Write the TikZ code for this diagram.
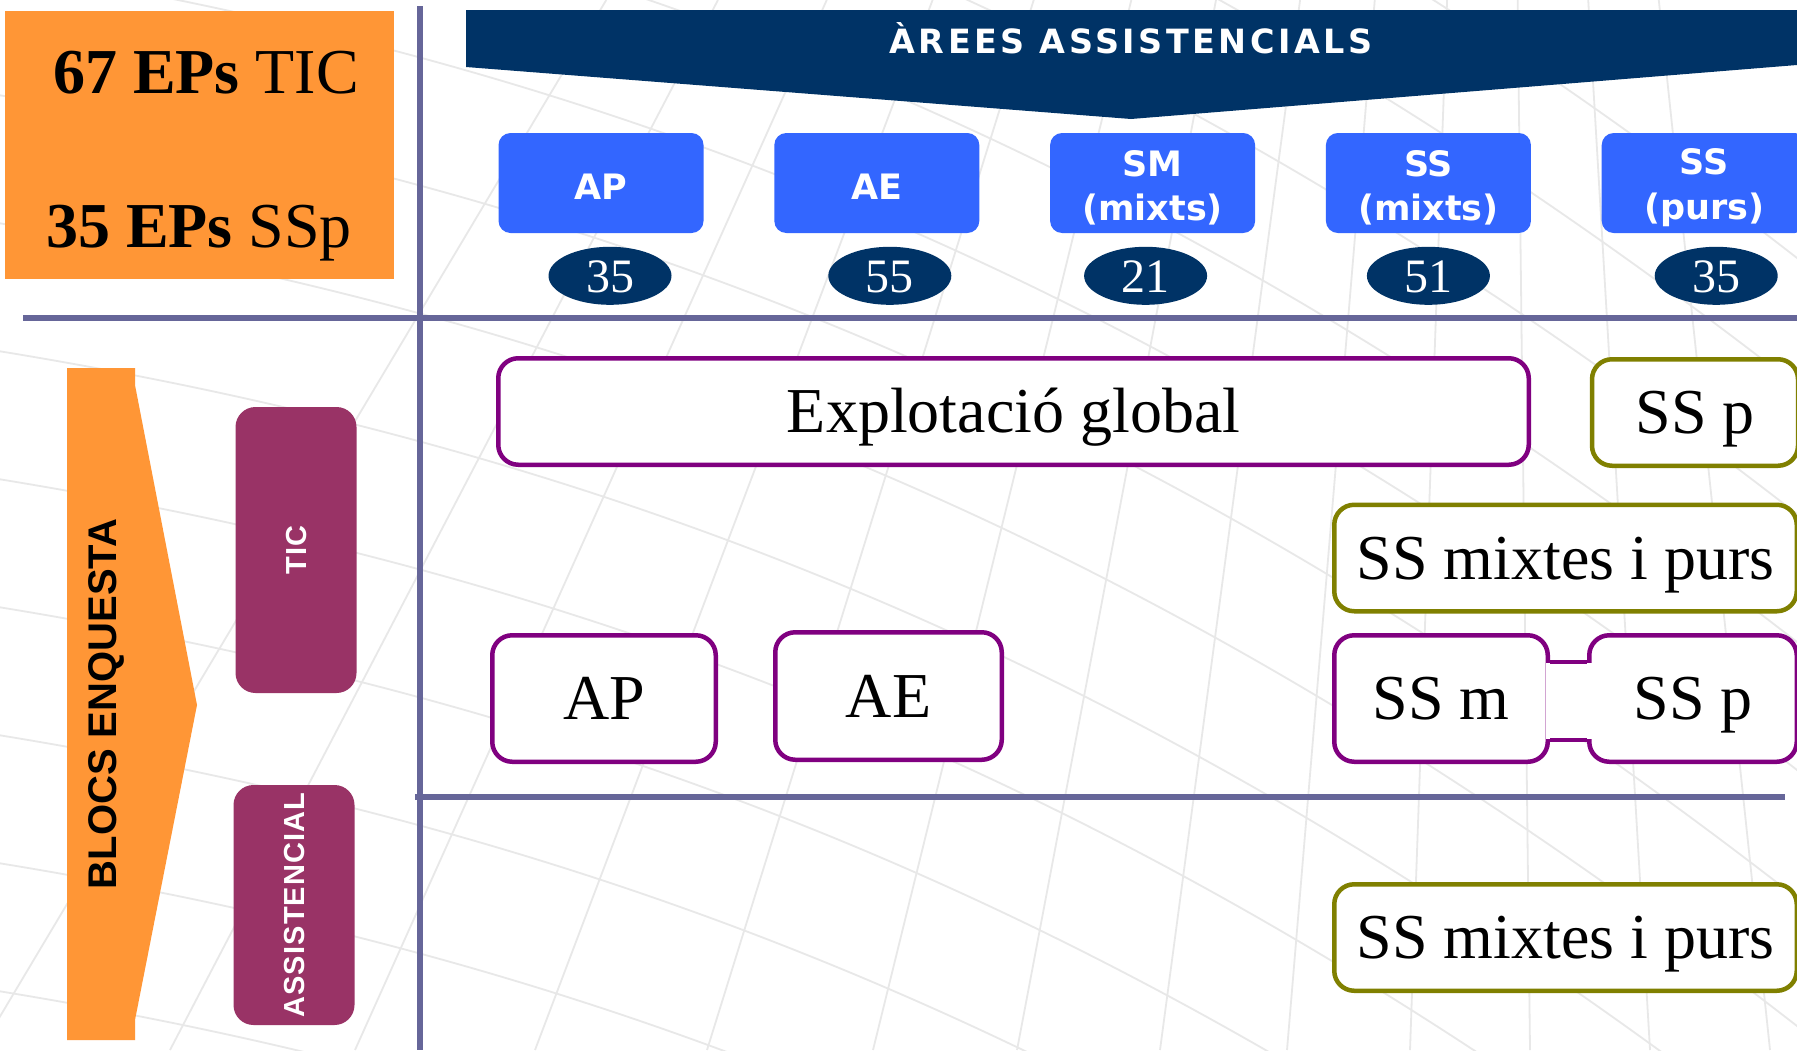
\documentclass[tikz,border=0pt]{standalone}
\usepackage{fontspec}
\setmainfont{Liberation Serif}
\newfontfamily\areafont{DejaVu Sans}
\newfontfamily\titlefont{DejaVu Sans}[LetterSpace=10.5]
\newfontfamily\blockfont{Liberation Sans}
\newfontfamily\tagfont{Liberation Sans}[LetterSpace=4]
\usetikzlibrary{positioning,shapes.geometric}
\definecolor{navy}{RGB}{0,51,102}
\definecolor{areablue}{RGB}{51,102,255}
\definecolor{epsorange}{RGB}{255,150,54}
\definecolor{blockpurple}{RGB}{153,51,102}
\definecolor{framegray}{RGB}{102,102,153}
\definecolor{boxpurple}{RGB}{128,0,128}
\definecolor{boxolive}{RGB}{128,128,0}
\tikzset{
  mesh line/.style={draw=black!9, line width=0.9pt},
  frame line/.style={draw=framegray, line width=3pt},
  eps box/.style={
    fill=epsorange,
    minimum width=194.5pt,
    minimum height=134pt,
  },
  eps text/.style={
    font=\fontsize{32}{38}\selectfont,
    inner sep=0pt,
  },
  title text/.style={
    text=white,
    font=\titlefont\bfseries\fontsize{16.7}{16.7}\selectfont,
    inner sep=0pt,
  },
  area box/.style={
    fill=areablue,
    rounded corners=6pt,
    minimum width=102.5pt,
    minimum height=50pt,
    inner sep=0pt,
    text=white,
    align=center,
    text height=#1,
    font=\areafont\bfseries\fontsize{17.5}{22.2}\selectfont,
  },
  area box/.default=16.75pt,
  count oval/.style={
    ellipse,
    fill=navy,
    minimum width=61.5pt,
    minimum height=29pt,
    inner sep=0pt,
    text=white,
    text height=16.2pt,
    text depth=0pt,
    font=\fontsize{24}{24}\selectfont,
  },
  blocs text/.style={
    rotate=90,
    inner sep=0pt,
    text height=14.3pt,
    text depth=0pt,
    font=\blockfont\bfseries\fontsize{20}{20}\selectfont,
  },
  block box/.style={
    fill=blockpurple,
    rounded corners=10pt,
    rotate=90,
    minimum width={#1*0.5pt},
    minimum height=60.5pt,
    inner sep=0pt,
    text=white,
    text height=10.4pt,
    text depth=0pt,
    font=\tagfont\bfseries\fontsize{14.5}{14.5}\selectfont,
  },
  result box/.style={
    draw=boxpurple,
    fill=white,
    line width=2.25pt,
    rounded corners=10pt,
    minimum width={#1*0.5pt},
    minimum height=53.25pt,
    inner sep=0pt,
    text height=21.2pt,
    text depth=0pt,
    font=\fontsize{32}{38}\selectfont,
  },
  olive box/.style={result box=#1, draw=boxolive},
  neck line/.style={draw=boxpurple, line width=1.6pt},
}

\begin{document}
\begin{tikzpicture}[x=0.5pt, y=-0.5pt, node distance=35pt]
  \fill[white] (0,0) rectangle (1797,1050);
  \useasboundingbox (0,0) rectangle (1797,1050);
  \begin{scope}
    \clip (0,0) rectangle (1797,1050);
    \foreach \xb in {-20,170,355,535,707,873,1017,1160,1287,1410,1530,1650,1770}
      \draw[mesh line] (\xb,1050) -- ({\xb+0.412*(1500-\xb)},0);
    \foreach \yb in {-560,-432,...,1000}
      \draw[mesh line] (-100,\yb) .. controls (600,\yb+100) and (1200,\yb+330) .. (1900,\yb+900);
  \end{scope}

  \draw[frame line] (23,318) -- (1797,318);
  \draw[frame line] (420,6) -- (420,1050);
  \draw[frame line] (415,797) -- (1785,797);

  \node[eps box] (eps) at (199.5,145) {};
  \node[eps text, anchor=base] (epstic) at (206,93) {\textbf{67 EPs} TIC};
  \node[eps text, anchor=base] (epsssp) at (199,247) {\textbf{35 EPs} SSp};

  \fill[navy] (466,10) -- (1797,10) -- (1797,65) -- (1131,119) -- (466,67) -- cycle;
  \node[title text, anchor=base] (arees) at (1131,53) {ÀREES ASSISTENCIALS};

  \node[area box] (area1) at (601,183) {AP};
  \node[area box, right=of area1] (area2) {AE};
  \node[area box=40pt, right=of area2] (area3) {SM\\(mixts)};
  \node[area box=40pt, right=of area3] (area4) {SS\\(mixts)};
  \node[area box=40pt, right=of area4] (area5) {SS\\(purs)};

  \node[count oval, below=6.5pt of area1, xshift=4.5pt] (n1) {35};
  \node[count oval, below=6.5pt of area2, xshift=6.5pt] (n2) {55};
  \node[count oval, below=6.5pt of area3, xshift=-3.5pt] (n3) {21};
  \node[count oval, below=6.5pt of area4] (n4) {51};
  \node[count oval, below=6.5pt of area5, xshift=6pt] (n5) {35};

  \fill[epsorange] (67,368) -- (135,368) -- (135,385) -- (197,705) -- (135,1020) -- (135,1040) -- (67,1040) -- cycle;
  \node[blocs text] (blocs) at (102,704) {BLOCS ENQUESTA};
  \node[block box=286] (tic) at (296,550) {TIC};
  \node[block box=240] (assist) at (294,905) {ASSISTENCIAL};

  \node[result box=1030.5] (global) at (1013.5,411.5) {Explotació global};
  \node[olive box=206] (sspt) at (1695,412.5) {SS p};
  \node[olive box=462.5] (ssmpt) at (1565.5,558) {SS mixtes i purs};
  \node[result box=223.5, minimum height=63.25pt] (apb) at (604,698.5) {AP};
  \node[result box=226.5, minimum height=63.75pt] (aeb) at (888.5,696) {AE};
  \node[result box=213.5, minimum height=63.25pt] (ssmb) at (1441,698.5) {SS m};
  \node[result box=207.5, minimum height=63.25pt] (sspb) at (1693,698.5) {SS p};
  \node[olive box=462.5] (ssmpa) at (1565.5,937.5) {SS mixtes i purs};

  \coordinate (necktop) at (0,662);
  \coordinate (neckbot) at (0,740);
  \fill[white] (1545.5,663) rectangle (1591.5,739);
  \draw[neck line] (ssmb.east |- necktop) -- (sspb.west |- necktop);
  \draw[neck line] (ssmb.east |- neckbot) -- (sspb.west |- neckbot);
\end{tikzpicture}
\end{document}
